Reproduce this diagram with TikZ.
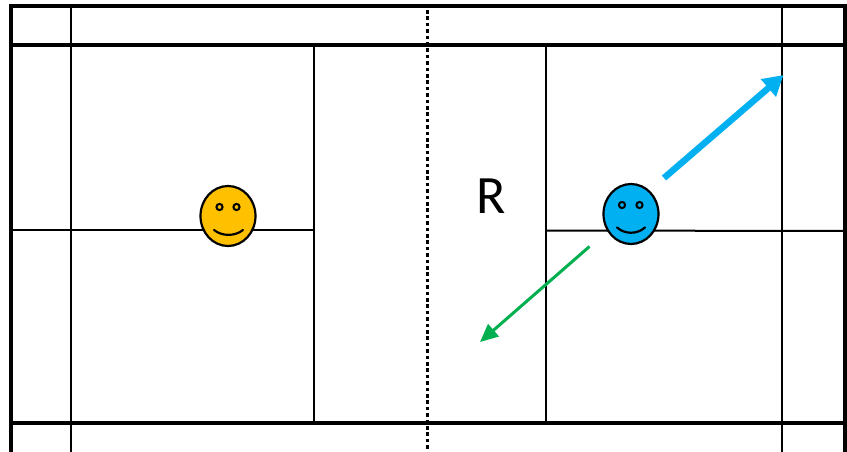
\documentclass[tikz,border=0pt]{standalone}
\usepackage{fontspec}
\setmainfont{Carlito}
\usetikzlibrary{arrows.meta,shapes.geometric}
\definecolor{faceY}{HTML}{FFC000}
\definecolor{faceB}{HTML}{00B0F0}
\definecolor{arrG}{HTML}{00B050}
\tikzset{
  frameline/.style={line width=4pt,black},
  bandline/.style={line width=3.2pt,black},
  courtline/.style={line width=2pt,black},
  face/.style={draw=black,line width=2.2pt,ellipse,inner sep=0pt,minimum width=55pt,minimum height=60pt},
  eye/.style={draw=black,line width=2pt},
  smile/.style={draw=black,line width=2.2pt,line cap=round},
}
\begin{document}
\begin{tikzpicture}[x=1pt,y=-1pt]
\useasboundingbox (0,0) rectangle (847,452);
\fill[white] (0,0) rectangle (847,452);
% court
\draw[courtline] (71,6) -- (71,452);
\draw[courtline] (782,6) -- (782,452);
\draw[courtline] (314,45) -- (314,423);
\draw[courtline] (546,45) -- (546,423);
\draw[courtline] (10,230) -- (314,230);
\draw[courtline] (546,230.5) -- (845,231);
\draw[line width=3pt,black,dash pattern=on 3.6pt off 2.8pt] (427.5,10) -- (427.5,450);
\draw[bandline] (10,45) -- (845,45);
\draw[bandline] (10,423) -- (845,423);
\draw[frameline] (10.5,452) -- (10.5,6.2) -- (845.3,6.2) -- (845.3,452);
% faces
\node[face,fill=faceY] (yellowface) at (228,216) {};
\draw[eye] (219.5,207) circle (3.1pt);
\draw[eye] (236.5,207) circle (3.1pt);
\draw[smile] (214,230) .. controls (222,236.5) and (235,236.5) .. (243,230);
\node[face,fill=faceB] (blueface) at (631,214) {};
\draw[eye] (622,205) circle (3.1pt);
\draw[eye] (639.5,205) circle (3.1pt);
\draw[smile] (617,227.5) .. controls (625,234.5) and (637,234.5) .. (645,227.5);
% label
\node[font=\fontsize{54}{54}\selectfont,inner sep=0pt] (rlabel) at (491,196) {R};
% arrows
\coordinate (bluestart) at (664,178);
\coordinate (blueend) at (783.5,75);
\coordinate (greenstart) at (589.5,246.5);
\coordinate (greenend) at (480,342);
\draw[faceB,line width=6.5pt,-{Triangle[length=20pt,width=22pt]}] (bluestart) -- (blueend);
\draw[arrG,line width=3pt,-{Triangle[length=18pt,width=16pt]}] (greenstart) -- (greenend);
\end{tikzpicture}
\end{document}
